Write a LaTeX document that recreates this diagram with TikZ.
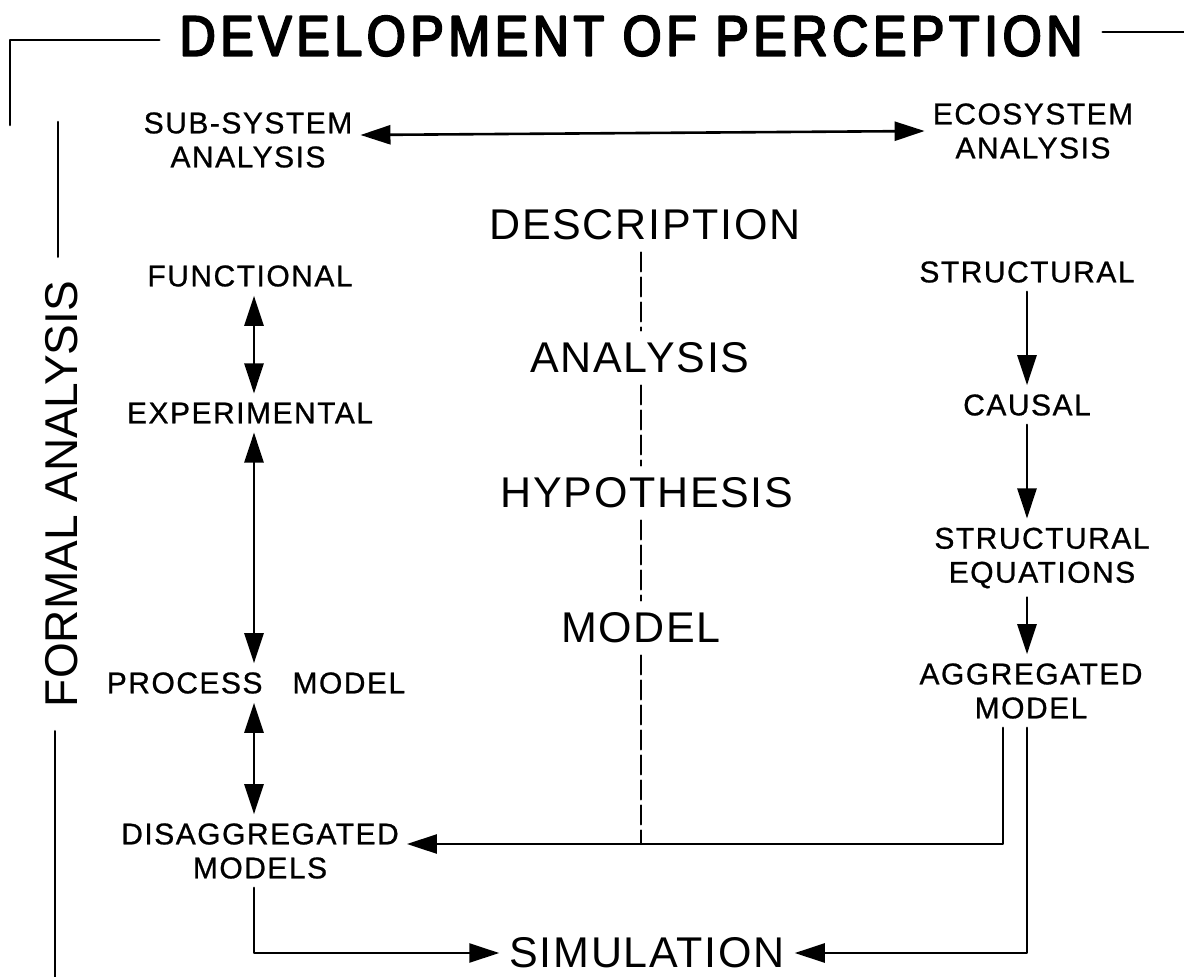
\documentclass[tikz,border=0pt]{standalone}
\usepackage{fontspec}
\setmainfont{Liberation Sans}
\newfontfamily\tagfamily[LetterSpace=5, FakeBold=0.8]{Liberation Sans}
\newfontfamily\stagefamily[LetterSpace=4]{Liberation Sans}
\newfontfamily\headfamily[FakeStretch=0.88, FakeBold=3.5, LetterSpace=8]{Liberation Sans}
\usetikzlibrary{arrows.meta}

\begin{document}
\begin{tikzpicture}[x=1pt, y=-1pt, line cap=round, line join=round]
\tikzset{
  tag/.style={font=\tagfamily\fontsize{30}{34}\selectfont, align=center, inner xsep=8pt, inner ysep=9pt},
  stage/.style={font=\stagefamily\fontsize{43}{48}\selectfont, inner xsep=10pt, inner ysep=12pt},
  sideline/.style={line width=2.6pt},
  link/.style={line width=2.6pt, -{Triangle[length=30pt,width=19pt]}},
  twoway/.style={line width=2.6pt, {Triangle[length=30pt,width=19pt]}-{Triangle[length=30pt,width=19pt]}},
  trail/.style={line width=2.2pt, dash pattern=on 19pt off 6pt},
}
\useasboundingbox (0,0) rectangle (1184,977);

% columns (px)
\coordinate (lcol)  at (254,0);
\coordinate (rcol)  at (1027,0);
\coordinate (dashx) at (641,0);
\coordinate (aggL)  at (1003,0);
\coordinate (brk)   at (10,125);
\coordinate (edgeR) at (1184,0);
\coordinate (fmtop) at (58,122);
\coordinate (fmbot) at (55,977);

% heading and side label
\node[font=\headfamily\fontsize{57}{60}\selectfont, inner xsep=20pt] (title) at (631,36) {DEVELOPMENT OF PERCEPTION};
\node[font=\fontsize{46}{50}\selectfont, rotate=90, inner xsep=24pt] (formal) at (62,494) {FORMAL ANALYSIS};

% top row
\node[tag] (sub) at (248,140) {SUB-SYSTEM\\ANALYSIS};
\node[tag] (eco) at (1033,131) {ECOSYSTEM\\ANALYSIS};

% left column
\node[tag] (func)   at (250,276) {FUNCTIONAL};
\node[tag] (exper)  at (250,413) {EXPERIMENTAL};
\node[tag] (proc)   at (256,683) {PROCESS\quad MODEL};
\node[tag] (disagg) at (260,851) {DISAGGREGATED\\MODELS};

% right column
\node[tag] (struct) at (1027,272) {STRUCTURAL};
\node[tag] (causal) at (1027,405) {CAUSAL};
\node[tag] (streq)  at (1042,558) {STRUCTURAL\\EQUATIONS};
\node[tag] (agg)    at (1031,691) {AGGREGATED\\MODEL};

% centre stages
\node[stage] (desc) at (645,225) {DESCRIPTION};
\node[stage] (ana)  at (640,358) {ANALYSIS};
\node[stage] (hyp)  at (647,493) {HYPOTHESIS};
\node[stage] (mdl)  at (641,628) {MODEL};
\node[stage] (sim)  at (647,953) {SIMULATION};

\coordinate (feed) at ([yshift=7pt]disagg.east);

% frame lines
\draw[sideline] (brk) |- ([yshift=-4pt]title.west);
\draw[sideline] ([yshift=4pt]title.east) -- ([yshift=4pt]title.east -| edgeR);
\draw[sideline] (fmtop) -- (formal.east -| fmtop);
\draw[sideline] (formal.west -| fmbot) -- (fmbot);

% arrows
\draw[twoway] ([yshift=5pt]sub.east) -- (eco.west);
\draw[twoway] (func.south -| lcol) -- (exper.north -| lcol);
\draw[twoway] (exper.south -| lcol) -- (proc.north -| lcol);
\draw[twoway] (proc.south -| lcol) -- (disagg.north -| lcol);
\draw[link] (struct.south -| rcol) -- (causal.north -| rcol);
\draw[link] (causal.south -| rcol) -- (streq.north -| rcol);
\draw[link] (streq.south -| rcol) -- (agg.north -| rcol);
\draw[link] (agg.south -| aggL) |- (feed);
\draw[link] (disagg.south -| lcol) |- (sim.west);
\draw[link] (agg.south -| rcol) |- (sim.east);

% dashed spine
\draw[trail] (desc.south -| dashx) -- (ana.north -| dashx);
\draw[trail] (ana.south -| dashx) -- (hyp.north -| dashx);
\draw[trail] (hyp.south -| dashx) -- (mdl.north -| dashx);
\draw[trail] (mdl.south -| dashx) -- (feed -| dashx);
\end{tikzpicture}
\end{document}
